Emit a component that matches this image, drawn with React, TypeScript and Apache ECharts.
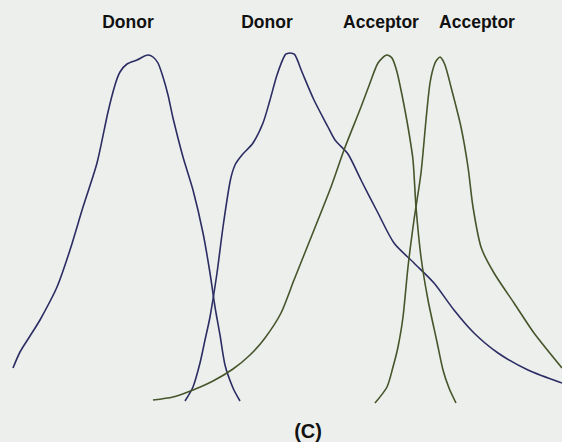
import React, { useEffect, useRef } from "react";
import * as echarts from "echarts";

const donor1: [number, number][] = [
  [13, 368], [20, 352], [30, 336], [40, 320], [57, 287], [70, 250], [83, 207], [97, 163],
  [108, 112], [115, 85], [120, 72], [127, 64], [137, 60], [148, 55], [153, 57], [158, 63],
  [163, 77], [168, 95], [173, 118], [183, 157], [193, 190], [203, 233], [210, 273], [215, 307],
  [220, 335], [225, 365], [233, 388], [240, 401],
];

const donor2: [number, number][] = [
  [185, 401], [193, 387], [200, 363], [205, 340], [210, 317], [217, 273], [223, 227], [230, 182],
  [235, 165], [242, 155], [253, 143], [263, 123], [270, 100], [277, 75], [285, 55], [290, 53],
  [295, 55], [302, 72], [314, 100], [328, 127], [335, 140], [348, 154], [361, 180],
  [378, 213], [394, 243], [414, 263], [434, 283], [454, 310], [474, 333], [498, 353], [528, 370],
  [562, 383],
];

const acceptor1: [number, number][] = [
  [153, 400], [173, 397], [193, 390], [213, 381], [233, 369], [250, 355], [265, 338], [281, 313],
  [294, 280], [314, 230], [331, 187], [344, 150], [361, 107], [370, 83], [378, 63], [387, 55],
  [392, 58], [397, 72], [402, 95], [408, 127], [413, 160], [416, 207], [421, 257], [428, 300],
  [437, 342], [443, 370], [449, 388], [456, 403],
];

const acceptor2: [number, number][] = [
  [375, 403], [387, 387], [393, 367], [398, 347], [403, 317], [408, 267], [414, 220], [421, 173],
  [426, 120], [430, 83], [435, 63], [440, 57], [445, 65], [451, 87], [461, 127],
  [468, 167], [473, 207], [481, 247], [494, 273], [514, 303], [534, 333], [562, 368],
];

const labels = ["Donor", "Donor", "Acceptor", "Acceptor"];
const caption = "(C)";

const BLUE = "#2b2d63";
const GREEN = "#46552a";

export default function App() {
  const ref = useRef<HTMLDivElement>(null);
  useEffect(() => {
    if (!ref.current) return;
    const chart = echarts.init(ref.current, undefined, { renderer: "svg" });
    const labelX = [128, 267, 381, 477];
    const mk = (name: string, data: [number, number][], color: string) => ({
      type: "line",
      name,
      data,
      smooth: 0.25,
      showSymbol: false,
      symbol: "none",
      lineStyle: { color, width: 1.6 },
      silent: true,
    });
    chart.setOption({
      animation: false,
      backgroundColor: "#edefed",
      grid: { left: 0, right: 0, top: 0, bottom: 0 },
      xAxis: { type: "value", min: 0, max: 562, show: false },
      yAxis: { type: "value", min: 0, max: 442, inverse: true, show: false },
      series: [
        mk("Donor 1", donor1, BLUE),
        mk("Donor 2", donor2, BLUE),
        mk("Acceptor 1", acceptor1, GREEN),
        mk("Acceptor 2", acceptor2, GREEN),
      ],
      graphic: [
        ...labels.map((t, i) => ({
          type: "text",
          x: labelX[i],
          y: 22,
          style: {
            text: t,
            fill: "#111",
            font: "bold 17.5px 'Liberation Sans', Arial, sans-serif",
            textAlign: "center",
            textVerticalAlign: "middle",
          },
        })),
        {
          type: "text",
          x: 308,
          y: 431,
          style: {
            text: caption,
            fill: "#111",
            font: "bold 20px 'Liberation Sans', Arial, sans-serif",
            textAlign: "center",
            textVerticalAlign: "middle",
          },
        },
      ],
    });
    return () => chart.dispose();
  }, []);
  return (
    <div
      ref={ref}
      style={{ position: "fixed", left: 0, top: 0, width: 562, height: 442 }}
    />
  );
}
